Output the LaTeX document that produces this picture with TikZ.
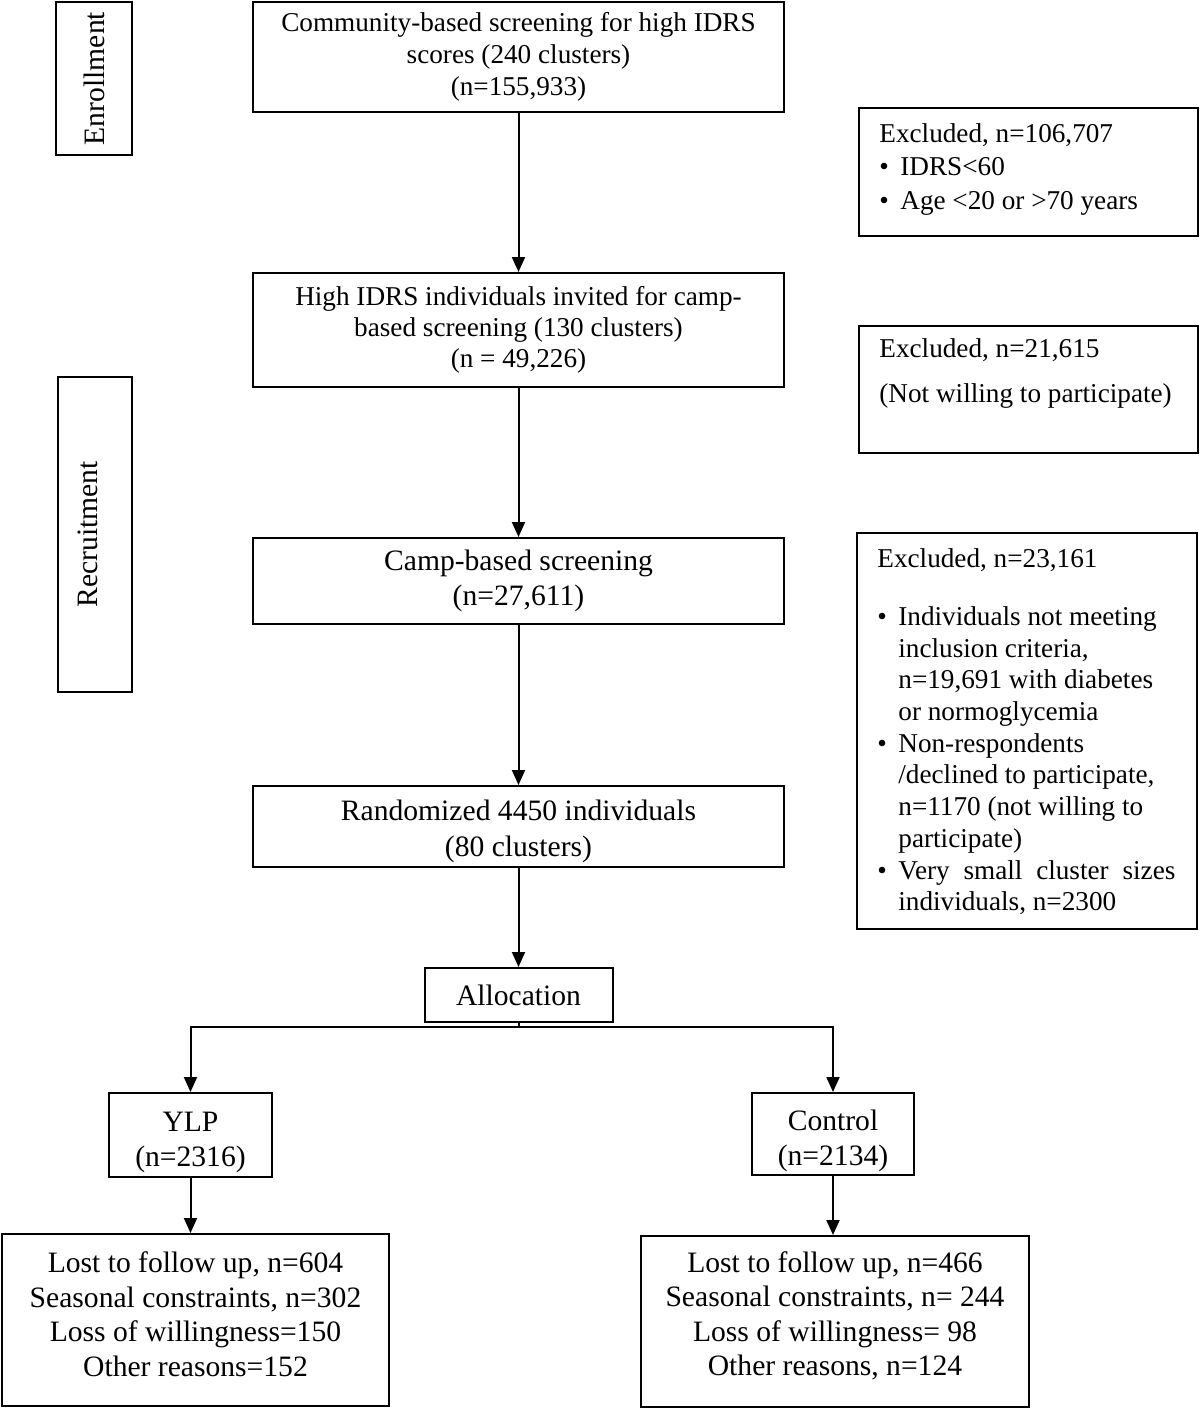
\documentclass[tikz,border=0pt]{standalone}
\usepackage{fontspec}
\setmainfont{Liberation Serif}
\usetikzlibrary{arrows.meta,calc}
\begin{document}
\begin{tikzpicture}[x=0.5pt,y=-0.5pt,
  box/.style={draw, line width=1pt, align=center, inner sep=0pt,
    font=\fontsize{13.6pt}{16pt}\selectfont},
  bigbox/.style={box, font=\fontsize{14.8pt}{17.5pt}\selectfont},
  sidebox/.style={draw, line width=1pt, inner sep=0pt, rotate=90,
    font=\fontsize{14.8pt}{16pt}\selectfont},
  exbox/.style={draw, line width=1pt, inner sep=0pt, minimum width=169.5pt},
  extext/.style={anchor=north west, inner sep=0pt, align=left,
    font=\fontsize{13.6pt}{16.75pt}\selectfont},
  arr/.style={line width=1pt, -{Triangle[length=7.5pt,width=6.5pt]}},
  ln/.style={line width=1pt}]
\useasboundingbox (0,0) rectangle (1200,1409);

\newcommand{\bul}{\makebox[10.5pt][l]{•}}
\newcommand{\ind}{\hspace*{10.5pt}}

% side labels
\node[sidebox, minimum width=76.5pt, minimum height=38pt] (enroll) at (94,78.5) {Enrollment};
\node[sidebox, minimum width=157.5pt, minimum height=37pt] (recruit) at (95,534.5)
  {\raisebox{3.5pt}[\height][\depth]{Recruitment}};

% main column
\node[box, minimum width=265.5pt, minimum height=55pt] (top) at (518.5,57)
  {Community-based screening for high IDRS\\ scores (240 clusters)\\ (n=155,933)};
\node[box, minimum width=265.5pt, minimum height=57pt,
  font=\fontsize{13.6pt}{15.5pt}\selectfont] (invite) at (518.5,330)
  {High IDRS individuals invited for camp-\\ based screening (130 clusters)\\ (n = 49,226)};
\node[bigbox, minimum width=265.5pt, minimum height=43pt] (camp) at (518.5,581)
  {Camp-based screening\\ (n=27,611)};
\node[bigbox, minimum width=265.5pt, minimum height=40.5pt,
  font=\fontsize{14.8pt}{18pt}\selectfont] (rand) at (518.5,826.5)
  {\mbox{}\\[-2.4pt]Randomized 4450 individuals\\ (80 clusters)};
\node[bigbox, minimum width=94pt, minimum height=27pt] (alloc) at (518.5,995) {Allocation};

% arms
\node[bigbox, minimum width=81.5pt, minimum height=42pt] (ylp) at (190.5,1135)
  {\mbox{}\\YLP\\ (n=2316)};
\node[bigbox, minimum width=81pt, minimum height=41pt] (ctrl) at (833,1134)
  {\mbox{}\\[-0.7pt]Control\\ (n=2134)};

\node[bigbox, minimum width=193.5pt, minimum height=86pt,
  font=\fontsize{14.8pt}{17.3pt}\selectfont] (lost1) at (195.5,1320)
  {Lost to follow up, n=604\\ Seasonal constraints, n=302\\ Loss of willingness=150\\ Other reasons=152\\[-11.3pt]\mbox{}};
\node[bigbox, minimum width=194pt, minimum height=85.5pt,
  font=\fontsize{14.8pt}{17.3pt}\selectfont] (lost2) at (835,1321.5)
  {Lost to follow up, n=466\\ Seasonal constraints, n= 244\\ Loss of willingness= 98\\ Other reasons, n=124\\[-9.3pt]\mbox{}};

% exclusion boxes
\node[exbox, minimum height=64pt] (ex1) at (1028.5,172) {};
\node[extext] (ex1t) at (879,123)
  {Excluded, n=106,707\\ \bul IDRS<60\\ \bul Age <20 or >70 years};

\node[exbox, minimum height=63.5pt] (ex2) at (1028.5,389.5) {};
\node[extext] (ex2t) at (879,338.5)
  {Excluded, n=21,615\\[5.5pt] (Not willing to participate)};

\node[exbox, minimum width=170pt, minimum height=198pt] (ex3) at (1027,731) {};
\node[extext, font=\fontsize{13.6pt}{15.85pt}\selectfont] (ex3t) at (877,548.5)
  {Excluded, n=23,161\\[13pt]
   \bul Individuals not meeting\\
   \ind inclusion criteria,\\
   \ind n=19,691 with diabetes\\
   \ind or normoglycemia\\
   \bul Non-respondents\\
   \ind /declined to participate,\\
   \ind n=1170 (not willing to\\
   \ind participate)\\
   \bul \makebox[138.5pt][s]{Very small cluster sizes}\\
   \ind individuals, n=2300};

% connectors
\draw[arr] (top) -- (invite);
\draw[arr] (invite) -- (camp);
\draw[arr] (camp) -- (rand);
\draw[arr] (rand) -- (alloc);
\coordinate (split) at (518.5,1027);
\draw[ln] (alloc.south) -- (split);
\draw[arr] (split) -| (ylp.north);
\draw[arr] (split) -| (ctrl.north);
\draw[arr] (ylp.south) -- (ylp.south |- lost1.north);
\draw[arr] (ctrl.south) -- (ctrl.south |- lost2.north);
\end{tikzpicture}
\end{document}
